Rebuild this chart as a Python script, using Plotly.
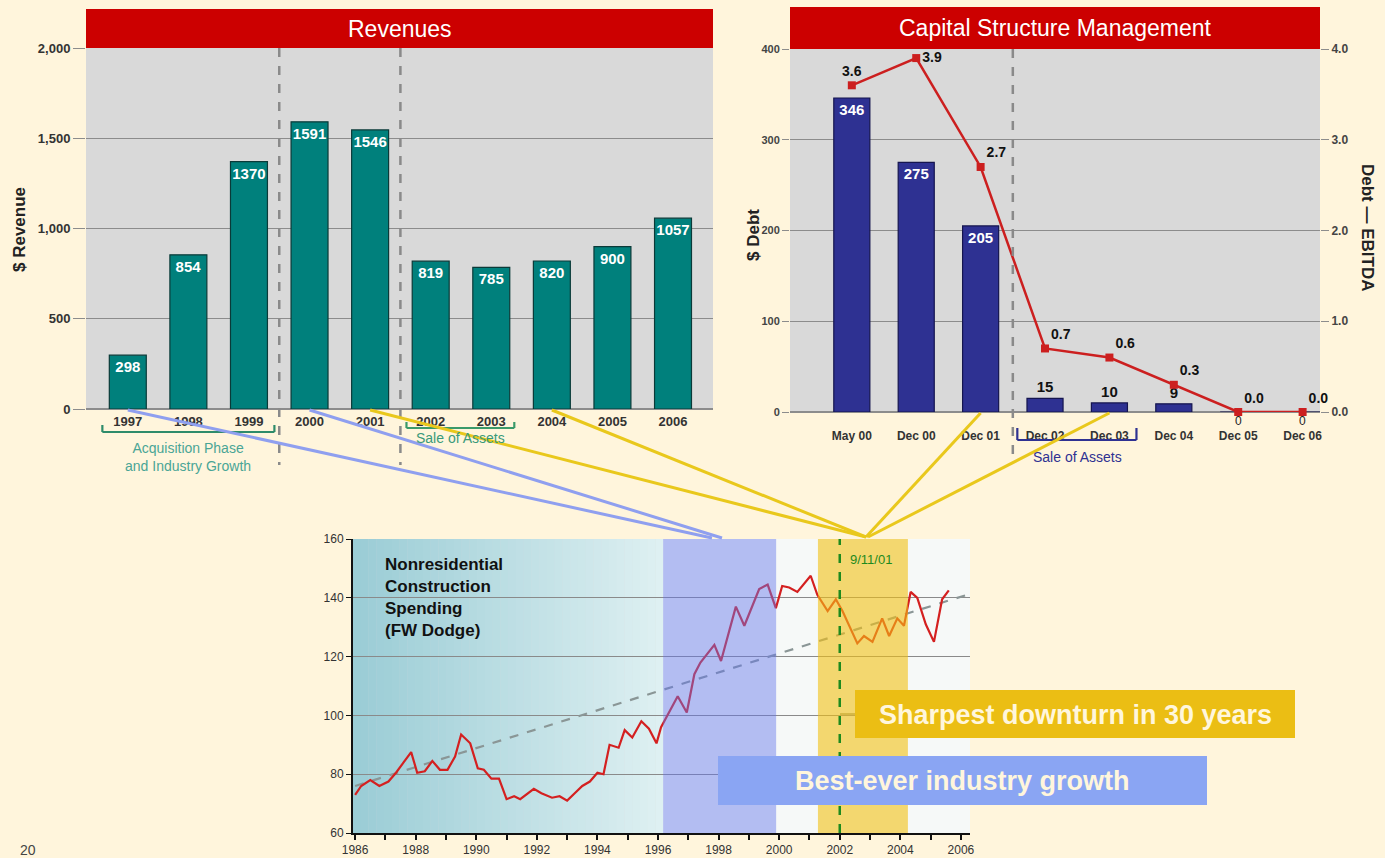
import plotly.graph_objects as go

W, H = 1385, 858
BG = "#FFF5DC"
FONT = "Liberation Sans, Arial, sans-serif"

# ---------------- data ----------------
rev_years = ["1997", "1998", "1999", "2000", "2001", "2002", "2003", "2004", "2005", "2006"]
rev_values = [298, 854, 1370, 1591, 1546, 819, 785, 820, 900, 1057]

debt_periods = ["May 00", "Dec 00", "Dec 01", "Dec 02", "Dec 03", "Dec 04", "Dec 05", "Dec 06"]
debt_values = [346, 275, 205, 15, 10, 9, 0, 0]
debt_ebitda = [3.6, 3.9, 2.7, 0.7, 0.6, 0.3, 0.0, 0.0]

spend_t = [1986.0, 1986.2, 1986.5, 1986.8, 1987.1, 1987.35, 1987.6, 1987.85, 1988.05, 1988.3,
           1988.55, 1988.8, 1989.05, 1989.3, 1989.5, 1989.8, 1990.05, 1990.25, 1990.5, 1990.75,
           1991.0, 1991.25, 1991.45, 1991.7, 1991.9, 1992.15, 1992.5, 1992.75, 1993.0, 1993.25,
           1993.5, 1993.75, 1994.0, 1994.2, 1994.4, 1994.7, 1994.9, 1995.15, 1995.45, 1995.7,
           1995.95, 1996.1, 1996.65, 1996.95, 1997.2, 1997.4, 1997.86, 1998.08, 1998.57, 1998.85,
           1999.34, 1999.62, 1999.89, 2000.1, 2000.33, 2000.6, 2001.04, 2001.26, 2001.6, 2001.87,
           2002.09, 2002.58, 2002.8, 2003.08, 2003.4, 2003.63, 2003.9, 2004.12, 2004.34, 2004.56,
           2004.84, 2005.11, 2005.38, 2005.6]
spend_v = [73, 76, 78, 76, 77.5, 80.5, 84, 87.5, 80.5, 81,
           84.5, 81.5, 81.5, 86, 93.5, 90.5, 82, 81.5, 78.5, 78.5,
           71.5, 72.5, 71.5, 73.5, 75, 73.5, 72, 72.5, 71, 73.5,
           76, 77.5, 80.5, 80, 90, 89, 95, 92.5, 98, 95.5,
           90.5, 96, 106.5, 101, 114, 118, 124, 118.5, 137, 130.5,
           143, 144.5, 136.5, 144, 143.5, 142, 147.5, 141, 135.5, 139.5,
           135.5, 124.5, 127, 125, 133, 127, 133, 130.5, 142, 140,
           131, 125, 139.5, 142.5]
trend_t = [1986.0, 2006.2]
trend_v = [76.0, 141.0]

growth_span = [1996.17, 1999.9]
downturn_span = [2001.28, 2004.25]
sept11_t = 2002.0

# ---------------- geometry (pixels) ----------------
REV = dict(x0=86, x1=713, y0=48, y1=409)
CAP = dict(x0=790, x1=1320, y0=49, y1=412)
BOT = dict(x0=353, x1=970, y0=539, y1=833)
rev_range = [-0.69, 9.66]
cap_range = [-0.96, 7.27]
bot_range = [1985.93, 2006.3]


def fx(p):
    return p / W


def fy(p):
    return 1 - p / H


def cat_px(box, rng, i):
    return box["x0"] + (i - rng[0]) / (rng[1] - rng[0]) * (box["x1"] - box["x0"])


fig = go.Figure()

# ---------------- traces ----------------
fig.add_trace(go.Bar(
    x=rev_years, y=rev_values, xaxis="x", yaxis="y",
    marker=dict(color="#00807C", line=dict(color="#0A3A38", width=1.2)),
    width=0.61, text=[str(v) for v in rev_values], textposition="inside",
    insidetextanchor="end", constraintext="none", textangle=0,
    textfont=dict(family=FONT, size=15, color="white", weight="bold"),
    showlegend=False, cliponaxis=False))

fig.add_trace(go.Bar(
    x=debt_periods, y=debt_values, xaxis="x2", yaxis="y2",
    marker=dict(color="#2E3192", line=dict(color="#15154F", width=1.2)),
    width=0.56,
    text=[str(v) if v > 0 else "" for v in debt_values],
    textposition=["inside" if v > 100 else "outside" for v in debt_values],
    insidetextanchor="end", constraintext="none", textangle=0,
    insidetextfont=dict(family=FONT, size=15, color="white", weight="bold"),
    outsidetextfont=dict(family=FONT, size=15, color="#111", weight="bold"),
    showlegend=False, cliponaxis=False))

fig.add_trace(go.Scatter(
    x=debt_periods, y=debt_ebitda, xaxis="x2", yaxis="y4",
    mode="lines+markers+text",
    line=dict(color="#CC1F1F", width=2.5),
    marker=dict(symbol="square", size=8, color="#CC1F1F"),
    text=[f"{v:.1f}" for v in debt_ebitda],
    textposition=["top center", "middle right", "top right", "top right",
                  "top right", "top right", "top right", "top right"],
    textfont=dict(family=FONT, size=14, color="#111", weight="bold"),
    showlegend=False, cliponaxis=False))

fig.add_trace(go.Scatter(
    x=trend_t, y=trend_v, xaxis="x3", yaxis="y3", mode="lines",
    line=dict(color="#8A9696", width=2.2, dash="dash"), showlegend=False))

fig.add_trace(go.Scatter(
    x=spend_t, y=spend_v, xaxis="x3", yaxis="y3", mode="lines",
    line=dict(color="#D42020", width=2.2), showlegend=False))

# ---------------- shapes ----------------
shapes = []


def rect_paper(x0, y0, x1, y1, color, layer="above"):
    shapes.append(dict(type="rect", xref="paper", yref="paper", x0=fx(x0), x1=fx(x1),
                       y0=fy(y1), y1=fy(y0), fillcolor=color, line=dict(width=0), layer=layer))


def line_paper(x0, y0, x1, y1, color, width, dash="solid"):
    shapes.append(dict(type="line", xref="paper", yref="paper", x0=fx(x0), y0=fy(y0),
                       x1=fx(x1), y1=fy(y1), line=dict(color=color, width=width, dash=dash),
                       layer="above"))


# bottom chart background: teal gradient then white
n = 40
c0, c1 = (155, 205, 214), (222, 240, 242)
g0, g1 = bot_range[0], growth_span[0]
for k in range(n):
    t = k / (n - 1)
    col = tuple(int(c0[j] + (c1[j] - c0[j]) * t) for j in range(3))
    shapes.append(dict(type="rect", xref="x3", yref="y3",
                       x0=g0 + (g1 - g0) * k / n, x1=g0 + (g1 - g0) * (k + 1) / n + 0.01,
                       y0=60, y1=160, fillcolor="rgb(%d,%d,%d)" % col,
                       line=dict(width=0), layer="below"))
shapes.append(dict(type="rect", xref="x3", yref="y3", x0=growth_span[0], x1=bot_range[1],
                   y0=60, y1=160, fillcolor="#F6F9F8", line=dict(width=0), layer="below"))
# translucent phase overlays
shapes.append(dict(type="rect", xref="x3", yref="y3", x0=growth_span[0], x1=growth_span[1],
                   y0=60, y1=160, fillcolor="rgba(100,118,235,0.46)", line=dict(width=0),
                   layer="above"))
shapes.append(dict(type="rect", xref="x3", yref="y3", x0=downturn_span[0], x1=downturn_span[1],
                   y0=60, y1=160, fillcolor="rgba(242,192,20,0.6)", line=dict(width=0),
                   layer="above"))
shapes.append(dict(type="line", xref="x3", yref="y3", x0=sept11_t, x1=sept11_t, y0=60, y1=160,
                   line=dict(color="#1E8A1E", width=2.5, dash="dash"), layer="above"))

# title bars
rect_paper(REV["x0"], 9, REV["x1"], REV["y0"], "#CC0000")
rect_paper(CAP["x0"], 7, CAP["x1"], CAP["y0"], "#CC0000")

# vertical dashed separators
for xv in (2.5, 4.5):
    shapes.append(dict(type="line", xref="x", yref="paper", x0=xv, x1=xv, y0=fy(REV["y0"]),
                       y1=fy(465), line=dict(color="#8A8A8A", width=2.5, dash="dash"),
                       layer="above"))
shapes.append(dict(type="line", xref="x2", yref="paper", x0=2.5, x1=2.5, y0=fy(CAP["y0"]),
                   y1=fy(455), line=dict(color="#8A8A8A", width=2.5, dash="dash"),
                   layer="above"))


# brackets
def bracket(xref, xa, xb, ytop, ybot, color):
    shapes.append(dict(type="line", xref=xref, yref="paper", x0=xa, x1=xb, y0=fy(ybot),
                       y1=fy(ybot), line=dict(color=color, width=2.2), layer="above"))
    for xv in (xa, xb):
        shapes.append(dict(type="line", xref=xref, yref="paper", x0=xv, x1=xv, y0=fy(ytop),
                           y1=fy(ybot), line=dict(color=color, width=2.2), layer="above"))


bracket("x", -0.42, 2.42, 425, 432, "#2E8B6A")
bracket("x", 4.6, 6.38, 422, 428, "#3A9A6A")
bracket("x2", 2.57, 4.42, 428, 440, "#2E3192")

# connector lines
BLUE_C, YEL_C = "#8F9FEF", "#E9C81C"
line_paper(cat_px(REV, rev_range, 0), 410, 712, 538, BLUE_C, 3)
line_paper(cat_px(REV, rev_range, 3), 410, 722, 538, BLUE_C, 3)
line_paper(cat_px(REV, rev_range, 4), 410, 866, 537, YEL_C, 3)
line_paper(cat_px(REV, rev_range, 7), 410, 866, 537, YEL_C, 3)
line_paper(cat_px(CAP, cap_range, 2), 413, 866, 537, YEL_C, 3)
line_paper(cat_px(CAP, cap_range, 4), 413, 868, 537, YEL_C, 3)

# callout boxes
line_paper(840, 714, 856, 714, "#B89A20", 1)
rect_paper(855, 690, 1295, 738, "#EBBE14")
rect_paper(718, 756, 1207, 805, "#8AA5F3")

# ---------------- annotations ----------------
ann = []


def text(x, y, s, size=12, color="#222", weight="normal", xanchor="center", yanchor="middle",
         angle=0, xref="paper", align="center"):
    ann.append(dict(x=x, y=y, xref=xref, yref="paper", text=s, showarrow=False,
                    font=dict(family=FONT, size=size, color=color, weight=weight),
                    xanchor=xanchor, yanchor=yanchor, textangle=angle, align=align))


text(fx((REV["x0"] + REV["x1"]) / 2), fy(29), "Revenues", size=23, color="white")
text(fx((CAP["x0"] + CAP["x1"]) / 2), fy(28), "Capital Structure Management", size=23, color="white")
text(fx(19), fy(230), "$ Revenue", size=17, weight="bold", angle=-90)
text(fx(753), fy(235), "$ Debt", size=17, weight="bold", angle=-90)
text(fx(1368), fy(228), "Debt \u2014 EBITDA", size=17, weight="bold", angle=90)
text(1, fy(457), "Acquisition Phase<br>and Industry Growth", size=14, color="#4AA596", xref="x")
text(5.5, fy(438), "Sale of Assets", size=14, color="#3A9A7A", xref="x")
text(3.5, fy(457), "Sale of Assets", size=14, color="#2E3192", xref="x2")
for i, v in enumerate(debt_values):
    if v == 0:
        text(i, fy(421), "0", size=12, color="#222", xref="x2")
text(fx(383), fy(553), "<b>Nonresidential<br>Construction<br>Spending<br>(FW Dodge)</b>",
     size=17, color="#111", xanchor="left", yanchor="top", align="left")
text(fx(848), fy(559), "9/11/01", size=13, color="#1E8A1E", xanchor="left")
text(fx(1075), fy(715), "Sharpest downturn in 30 years", size=27, color="#FFF6DC", weight="bold")
text(fx(962), fy(781), "Best-ever industry growth", size=27, color="#FFF6DC", weight="bold")
text(fx(28), fy(850), "20", size=14, color="#444")

# ---------------- layout ----------------
grid_c = "#8C8C8C"
tick_font = dict(family=FONT, size=13, color="#333", weight="bold")

fig.update_layout(
    width=W, height=H, margin=dict(l=0, r=0, t=0, b=0, pad=0), autosize=False,
    paper_bgcolor=BG, plot_bgcolor="#D9D9D9",
    font=dict(family=FONT), bargap=0.3,
    shapes=shapes, annotations=ann,
    xaxis=dict(domain=[fx(REV["x0"]), fx(REV["x1"])], anchor="y", type="category",
               range=rev_range, showgrid=False, tickfont=tick_font, ticks="",
               ticklabelstandoff=3, automargin=False),
    yaxis=dict(domain=[fy(REV["y1"]), fy(REV["y0"])], anchor="x", range=[0, 2000], dtick=500,
               tickformat=",", gridcolor=grid_c, gridwidth=1.3, ticks="outside", ticklen=12,
               tickcolor=grid_c, tickfont=tick_font, zeroline=True, zerolinecolor=grid_c,
               zerolinewidth=1.5, automargin=False),
    xaxis2=dict(domain=[fx(CAP["x0"]), fx(CAP["x1"])], anchor="y2", type="category",
                range=cap_range, showgrid=False, ticks="",
                tickfont=dict(family=FONT, size=12, color="#333", weight="bold"),
                ticklabelstandoff=15, automargin=False),
    yaxis2=dict(domain=[fy(CAP["y1"]), fy(CAP["y0"])], anchor="x2", range=[0, 400], dtick=100,
                gridcolor=grid_c, gridwidth=1.3, ticks="outside", ticklen=7, tickcolor=grid_c,
                tickfont=dict(family=FONT, size=11, color="#444", weight="bold"),
                zeroline=True, zerolinecolor=grid_c, zerolinewidth=1.5, automargin=False),
    yaxis4=dict(overlaying="y2", side="right", anchor="x2", range=[0, 4], dtick=1,
                tickformat=".1f", showgrid=False, zeroline=False, ticks="outside", ticklen=8,
                tickcolor=grid_c, tickfont=dict(family=FONT, size=12, color="#444",
                                                 weight="bold"), automargin=False),
    xaxis3=dict(domain=[fx(BOT["x0"]), fx(BOT["x1"])], anchor="y3", range=bot_range,
                tick0=1986, dtick=2, tickformat="d", showgrid=False, showline=True,
                linecolor="#111", linewidth=2, ticks="outside", ticklen=5, tickcolor="#111",
                tickwidth=2, minor=dict(dtick=1, ticks="outside", ticklen=5, tickcolor="#111"),
                tickfont=dict(family=FONT, size=12, color="#333"), zeroline=False,
                automargin=False),
    yaxis3=dict(domain=[fy(BOT["y1"]), fy(BOT["y0"])], anchor="x3", range=[60, 160], dtick=20,
                showline=True, linecolor="#111", linewidth=2, ticks="outside", ticklen=5,
                tickcolor="#111", gridcolor="#8A8A8A", gridwidth=1.2, zeroline=False,
                tickfont=dict(family=FONT, size=12, color="#333"), automargin=False),
)

fig.write_html("out.html", config={"displayModeBar": False},
               post_script="document.body.style.margin='0';"
                           "document.body.style.background='%s';" % BG)
